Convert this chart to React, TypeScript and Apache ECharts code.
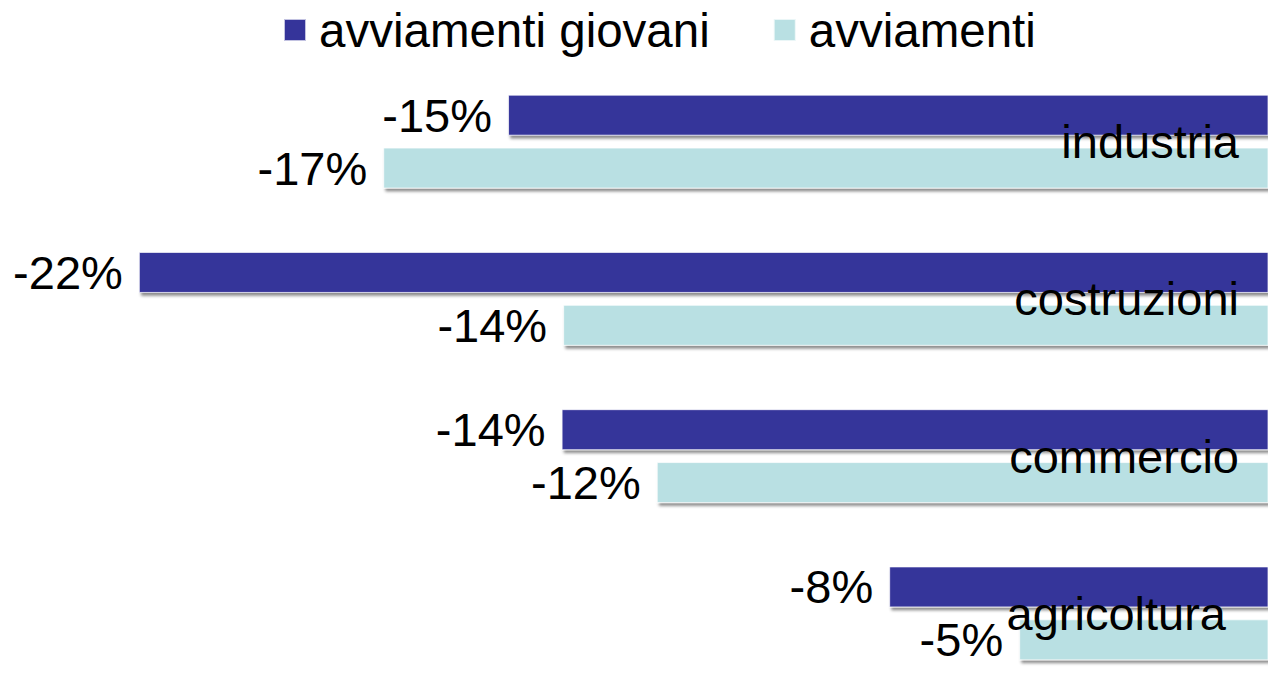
import React, { useEffect, useRef } from 'react';
import * as echarts from 'echarts';

const categories = ['industria', 'costruzioni', 'commercio', 'agricoltura'];
const seriesNames = ['avviamenti giovani', 'avviamenti'];
const giovaniValues = [-14.98, -22.08, -13.95, -7.65];
const avviamentiValues = [-17.38, -13.92, -12.12, -5.15];

const FONT = '"Liberation Sans", Arial, sans-serif';
const DARK = '#35349A';
const LIGHT = '#B9E0E3';

export default function App() {
  const ref = useRef<HTMLDivElement>(null);

  useEffect(() => {
    if (!ref.current) return;
    const chart = echarts.init(ref.current, undefined, { renderer: 'svg' });

    const barStyle = (color: string) => ({
      color,
      borderColor: 'rgba(255,255,255,0.7)',
      borderWidth: 1,
      shadowColor: 'rgba(0,0,0,0.45)',
      shadowBlur: 3,
      shadowOffsetX: 2,
      shadowOffsetY: 3,
    });

    const label = {
      show: true,
      position: 'left',
      distance: 16,
      color: '#000',
      fontFamily: FONT,
      fontSize: 47,
      formatter: (p: any) => Math.round(p.value) + '%',
    };

    chart.setOption({
      animation: false,
      backgroundColor: '#ffffff',
      legend: {
        data: seriesNames,
        left: 283,
        top: 6,
        padding: 0,
        itemWidth: 22,
        itemHeight: 22,
        itemGap: 63,
        icon: 'rect',
        textStyle: {
          color: '#000',
          fontFamily: FONT,
          fontSize: 47.5,
          padding: [0, 0, 0, 8],
        },
      },
      grid: {
        left: 0,
        right: 0,
        top: 63,
        height: 629,
        containLabel: false,
        outerBoundsMode: 'none',
      },
      xAxis: {
        type: 'value',
        min: -24.75,
        max: -0.365,
        show: false,
        splitLine: { show: false },
      },
      yAxis: {
        type: 'category',
        data: categories,
        inverse: true,
        position: 'right',
        z: 10,
        axisLine: { show: false },
        axisTick: { show: false },
        axisLabel: {
          inside: true,
          margin: 29,
          formatter: (v: string) => (v === 'agricoltura' ? `{p|${v}}` : `{n|${v}}`),
          rich: {
            n: { color: '#000', fontFamily: FONT, fontSize: 47 },
            p: { color: '#000', fontFamily: FONT, fontSize: 47, padding: [0, 13, 0, 0] },
          },
        },
      },
      series: [
        {
          name: seriesNames[0],
          type: 'bar',
          data: giovaniValues,
          barWidth: 41,
          barGap: '29%',
          itemStyle: barStyle(DARK),
          label,
        },
        {
          name: seriesNames[1],
          type: 'bar',
          data: avviamentiValues,
          barWidth: 41,
          barGap: '29%',
          itemStyle: barStyle(LIGHT),
          label,
        },
      ],
    });

    return () => chart.dispose();
  }, []);

  return (
    <div
      ref={ref}
      style={{ position: 'absolute', left: 0, top: 0, width: 1268, height: 687 }}
    />
  );
}
